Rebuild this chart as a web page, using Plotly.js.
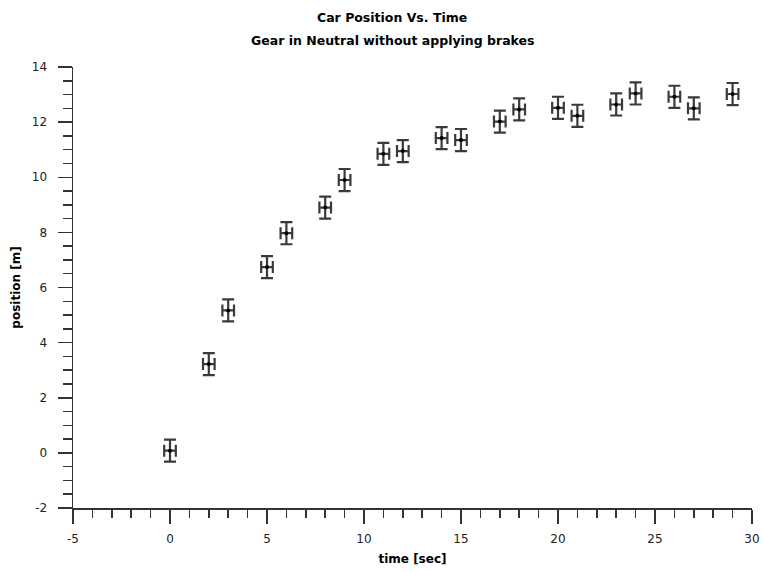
<!DOCTYPE html>
<html>
<head>
<meta charset="utf-8">
<script src="https://cdn.plot.ly/plotly-3.0.1.min.js"></script>
<style>
  html, body { margin: 0; padding: 0; background: #fff; }
  #chart { width: 763px; height: 572px; }
  /* soften the measurement glyphs a little */
  #chart .scatterlayer { filter: blur(0.6px); }
</style>
</head>
<body>
<div id="chart"></div>
<script>
// Measured car position while coasting in neutral
const timeSec = [0, 2, 3, 5, 6, 8, 9, 11, 12, 14, 15, 17, 18, 20, 21, 23, 24, 26, 27, 29];
const positionM = [0.08, 3.22, 5.17, 6.74, 7.97, 8.9, 9.9, 10.85, 10.95, 11.42, 11.35, 12.02, 12.46, 12.52, 12.23, 12.64, 13.04, 12.92, 12.5, 13.02];
const timeErr = 0.3;      // seconds
const positionErr = 0.4;  // metres

const xTicks = [-5, 0, 5, 10, 15, 20, 25, 30];
const yTicks = [-2, 0, 2, 4, 6, 8, 10, 12, 14];

const titleLines = ['Car Position Vs. Time', 'Gear in Neutral without applying brakes'];

const axisColor = '#333';
const glyphColor = '#3a3a3a';

const trace = {
  x: timeSec,
  y: positionM,
  type: 'scatter',
  mode: 'markers',
  marker: { color: '#000', size: 4, symbol: 'circle' },
  error_x: { type: 'constant', value: timeErr, color: glyphColor, thickness: 2.2, width: 6 },
  error_y: { type: 'constant', value: positionErr, color: glyphColor, thickness: 2.2, width: 6 },
  hoverinfo: 'x+y',
  showlegend: false
};

const tickFont = { family: 'DejaVu Sans, Verdana, sans-serif', size: 12, color: '#222' };
const boldFont = { family: 'DejaVu Sans, Verdana, sans-serif', size: 12, color: '#000', weight: 'bold' };

// two-line heading, drawn as separate centred lines
const titleY = [1.113, 1.059];
const annotations = titleLines.map((t, i) => ({
  text: '<b>' + t + '</b>',
  xref: 'paper', yref: 'paper',
  x: 0.47, y: titleY[i],
  xanchor: 'center', yanchor: 'middle',
  showarrow: false,
  font: { family: boldFont.family, size: 12.5, color: '#000' }
}));

const layout = {
  width: 763,
  height: 572,
  margin: { l: 73, r: 11, t: 67, b: 64 },
  paper_bgcolor: '#fff',
  plot_bgcolor: '#fff',
  annotations: annotations,
  xaxis: {
    range: [-5, 30],
    tickmode: 'array',
    tickvals: xTicks,
    ticktext: xTicks.map(String),
    ticks: 'outside',
    ticklen: 14,
    tickwidth: 1.5,
    tickcolor: axisColor,
    ticklabelstandoff: 5,
    showline: true,
    linecolor: axisColor,
    linewidth: 1.5,
    showgrid: false,
    zeroline: false,
    tickfont: tickFont,
    minor: { dtick: 1, tick0: 0, ticks: 'outside', ticklen: 8, tickwidth: 1.5, tickcolor: axisColor, showgrid: false },
    title: { text: '<b>time [sec]</b>', font: boldFont, standoff: 9 }
  },
  yaxis: {
    range: [-2, 14],
    tickmode: 'array',
    tickvals: yTicks,
    ticktext: yTicks.map(String),
    ticks: 'outside',
    ticklen: 14,
    tickwidth: 1.5,
    tickcolor: axisColor,
    ticklabelstandoff: 8,
    showline: true,
    linecolor: axisColor,
    linewidth: 1.5,
    showgrid: false,
    zeroline: false,
    tickfont: tickFont,
    minor: { dtick: 0.5, tick0: 0, ticks: 'outside', ticklen: 9, tickwidth: 1.5, tickcolor: axisColor, showgrid: false },
    title: { text: '<b>position [m]</b>', font: boldFont, standoff: 8 }
  }
};

Plotly.newPlot('chart', [trace], layout, { displayModeBar: false, staticPlot: true });
</script>
</body>
</html>
